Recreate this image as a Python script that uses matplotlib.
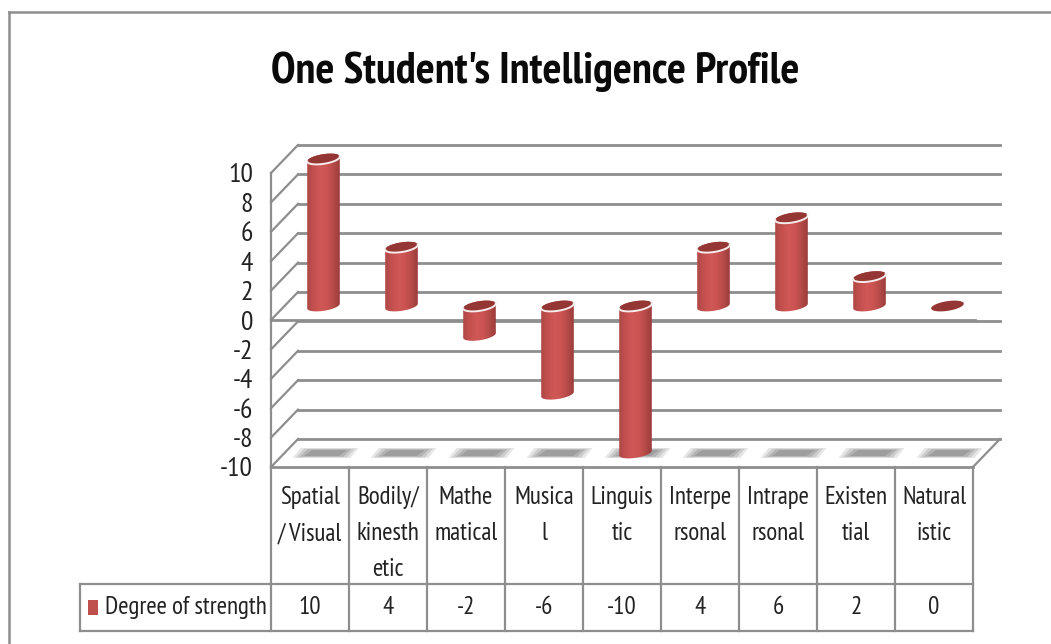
import numpy as np
import matplotlib
matplotlib.use("Agg")
import matplotlib.pyplot as plt
from matplotlib.colors import LinearSegmentedColormap
from matplotlib.patches import Polygon, Rectangle

categories = ["Spatial\n/ Visual", "Bodily/\nkinesth\netic", "Mathe\nmatical", "Musica\nl", "Linguis\ntic",
              "Interpe\nrsonal", "Intrape\nrsonal", "Existen\ntial", "Natural\nistic"]
values = [10, 4, -2, -6, -10, 4, 6, 2, 0]
series_name = "Degree of strength"
y_ticks = [-10, -8, -6, -4, -2, 0, 2, 4, 6, 8, 10]
chart_title = "One Student's Intelligence Profile"

W, H = 1051, 644
GRID = "#8e8e8e"
INK = "#222222"
TXT = 18
plt.rcParams['font.family'] = ['PT Sans Narrow', 'Carlito', 'Lato', 'DejaVu Sans']
plt.rcParams['axes.unicode_minus'] = False

fig = plt.figure(figsize=(W / 100, H / 100), dpi=100)
# front plane of the 3d box sits on this axes
left, right, top, bottom = 271, 973, 173, 467
ax = fig.add_axes([left / W, 1 - bottom / H, (right - left) / W, (bottom - top) / H])
ax.set_xlim(0, len(values))
ax.set_ylim(-10, 10)
ax.patch.set_alpha(0)
for s in ax.spines.values():
    s.set_visible(False)

# pixels to data units
ux = len(values) / (right - left)
uy = 20 / (bottom - top)
depth_x, depth_y = 27 * ux, 28 * uy
px_tbl = 117 * uy
row_h = 47 * uy

ax.set_xticks([])
ax.set_yticks(y_ticks)
ax.tick_params(axis="y", length=0, pad=13, labelsize=20, labelcolor=INK)

line = dict(color=GRID, clip_on=False, solid_capstyle="projecting")

# walls
for v in y_ticks:
    ax.plot([depth_x, len(values) + depth_x], [v + depth_y, v + depth_y], lw=2.0, zorder=1, **line)
    ax.plot([0, depth_x], [v, v + depth_y], lw=1.6, zorder=1, **line)
ax.plot([0, 0], [-10, 10], lw=1.6, zorder=2, **line)
ax.plot([0, len(values) + 0.03], [0, 0], lw=2.0, zorder=2, **line)
ax.plot([0, len(values)], [-10, -10], lw=2.0, zorder=2, **line)
ax.plot([len(values), len(values) + depth_x], [-10, -10 + depth_y], lw=1.6, zorder=2, **line)


def ellipse(cx, cy, t):
    a, b, tilt = 16.5, 4.8, np.radians(9)
    xp = a * np.cos(t) * np.cos(tilt) - b * np.sin(t) * np.sin(tilt)
    yp = a * np.cos(t) * np.sin(tilt) + b * np.sin(t) * np.cos(tilt)
    return cx + xp * ux, cy + yp * uy


cyl = LinearSegmentedColormap.from_list("cyl", ["#ae4846", "#c4504e", "#d05856", "#cb5452", "#b34a48", "#973a38"])
grad = np.linspace(0, 1, 64).reshape(1, -1)
up = np.linspace(0, np.pi, 40)
down = np.linspace(np.pi, 2 * np.pi, 40)

for i, v in enumerate(values):
    cx = i + 0.5 + depth_x / 2
    base = depth_y / 2
    hi = base + max(v, 0)
    lo = base + min(v, 0)

    # floor shadow
    fy = -10 + depth_y / 2
    fx = i + 0.5 + depth_x / 2 + 2 * ux
    for k, a in zip([1.0, 0.88, 0.75, 0.6], [0.2, 0.25, 0.35, 0.45]):
        hw, hh = 29 * ux * k, 5 * uy * k
        sk = 4 * ux
        ax.add_patch(Polygon([(fx - hw - sk, fy - hh), (fx + hw - sk, fy - hh), (fx + hw + sk, fy + hh), (fx - hw + sk, fy + hh)],
                             closed=True, fc="#858585", ec="none", alpha=a, clip_on=False, zorder=2))

    if v != 0:
        x1, y1 = ellipse(cx, hi, up)
        x2, y2 = ellipse(cx, lo, down)
        body = Polygon(np.column_stack([np.r_[x1, x2], np.r_[y1, y2]]), closed=True, transform=ax.transData)
        im = ax.imshow(grad, cmap=cyl, aspect="auto", zorder=3,
                       extent=[cx - 17 * ux, cx + 17 * ux, lo - 8 * uy, hi + 8 * uy])
        im.set_clip_box(fig.bbox)
        im.set_clip_path(body)

    tx, ty = ellipse(cx, hi, np.linspace(0, 2 * np.pi, 80))
    ax.fill(tx, ty, fc="#943634", ec="none", zorder=4, clip_on=False)
    if v != 0:
        rx, ry = ellipse(cx, hi, np.linspace(np.pi * 0.98, 2.02 * np.pi, 50))
        ax.plot(rx, ry, color="#f6ecec", lw=1.4, zorder=5, clip_on=False)

ax.set_xlim(0, len(values))
ax.set_ylim(-10, 10)

# data table under the chart
y_row = -10 - px_tbl
y_end = y_row - row_h
x_key = (80 - left) * ux
tbl = dict(color=GRID, lw=1.6, clip_on=False, solid_capstyle="projecting", zorder=2)
for i in range(len(values) + 1):
    ax.plot([i, i], [-10, y_end], **tbl)
ax.plot([x_key, len(values)], [y_row, y_row], **tbl)
ax.plot([x_key, len(values)], [y_end, y_end], **tbl)
ax.plot([x_key, x_key], [y_row, y_end], **tbl)

for i, (c, v) in enumerate(zip(categories, values)):
    for j, part in enumerate(c.split("\n")):
        ax.text(i + 0.5, -10 - (30.5 + 36 * j) * uy, part, ha="center", va="center", fontsize=TXT,
                color=INK, clip_on=False)
    ax.text(i + 0.5, y_row - row_h / 2, str(v), ha="center", va="center", fontsize=TXT, color=INK)

ax.add_patch(Rectangle((x_key + 8 * ux, y_row - 31 * uy), 10 * ux, 15 * uy, fc="#c0504d", ec="none", clip_on=False))
ax.text(x_key + 25 * ux, y_row - row_h / 2, series_name, ha="left", va="center", fontsize=TXT, color=INK)

fig.text(535 / W, 1 - 72 / H, chart_title, ha="center", va="center", fontsize=32, fontweight="bold", color="#0a0a0a")

# chart area border
fig.add_artist(plt.Line2D([9 / W, 1051 / W], [1 - 12 / H, 1 - 12 / H], color=GRID, lw=1.8))
fig.add_artist(plt.Line2D([9 / W, 9 / W], [1 - 12 / H, 0], color=GRID, lw=1.8))

fig.savefig("out.png", dpi=100)
